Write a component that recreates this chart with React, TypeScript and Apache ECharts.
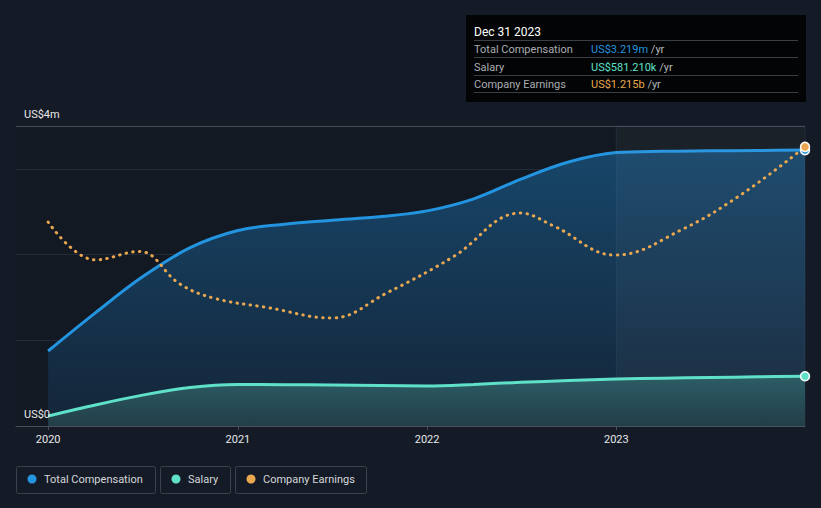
import React, { useEffect, useRef } from "react";
import * as echarts from "echarts";

const utc = (s: string) => {
  const [y, m, d] = s.split("-").map(Number);
  return Date.UTC(y, m - 1, d);
};

// Total compensation & salary (US$ millions), quarterly
const compDates = ["2020-01-01", "2020-04-01", "2020-07-01", "2020-10-01", "2021-01-01", "2021-04-01", "2021-07-01", "2021-10-01", "2022-01-01", "2022-04-01", "2022-07-01", "2022-10-01", "2023-01-01", "2023-04-01", "2023-07-01", "2023-10-01", "2023-12-31"];
const totalComp = [0.875, 1.32, 1.74, 2.08, 2.28, 2.355, 2.4, 2.44, 2.51, 2.65, 2.88, 3.08, 3.19, 3.205, 3.21, 3.215, 3.219];
const salary = [0.117, 0.245, 0.36, 0.45, 0.484, 0.482, 0.478, 0.472, 0.468, 0.485, 0.51, 0.53, 0.548, 0.558, 0.566, 0.574, 0.581];

// Company earnings (US$ billions)
const earnDates = ["2020-01-01", "2020-04-01", "2020-06-25", "2020-09-10", "2020-11-15", "2021-03-01", "2021-07-01", "2021-10-15", "2022-02-20", "2022-06-30", "2022-09-02", "2022-12-30", "2023-05-10", "2023-09-03", "2023-12-31"];
const earnings = [0.888, 0.723, 0.76, 0.62, 0.557, 0.515, 0.47, 0.579, 0.736, 0.927, 0.871, 0.744, 0.858, 1.014, 1.215];

const yearTicks = ["2020-01-01", "2021-01-01", "2022-01-01", "2023-01-01"];
const xStart = "2019-10-31";
const xEnd = "2023-12-31";
const highlightStart = "2023-01-01";

const seriesNames = ["Total Compensation", "Salary", "Company Earnings"];
const colors = ["#2394df", "#5fe0c8", "#e9a84f"];

const tooltipTitle = "Dec 31 2023";
const tooltipValues = ["US$3.219m", "US$581.210k", "US$1.215b"];
const yLabels = ["US$4m", "US$0"];

const FONT = "Roboto, 'Noto Sans', sans-serif";

function withEndMarker(dates: string[], vals: number[], color: string) {
  return vals.map((v, i) => {
    const item: any = { value: [utc(dates[i]), v] };
    if (i === vals.length - 1) {
      item.symbol = "circle";
      item.symbolSize = 9;
      item.itemStyle = { color, borderColor: "#ffffff", borderWidth: 1.5 };
    }
    return item;
  });
}

export default function App() {
  const ref = useRef<HTMLDivElement>(null);
  useEffect(() => {
    document.body.style.margin = "0";
    document.body.style.background = "#151b26";
    const chart = echarts.init(ref.current!, undefined, { renderer: "svg" });

    const graphics: any[] = [];
    graphics.push({ type: "line", shape: { x1: 16, y1: 126.5, x2: 805, y2: 126.5 }, style: { stroke: "#474d57", lineWidth: 1 }, z: 5 });
    graphics.push({ type: "text", x: 24, y: 114, style: { text: yLabels[0], fill: "#e6e8ea", font: `11px ${FONT}`, textVerticalAlign: "middle" }, z: 10 });
    graphics.push({ type: "text", x: 24, y: 414, style: { text: yLabels[1], fill: "#e6e8ea", font: `11px ${FONT}`, textVerticalAlign: "middle" }, z: 10 });

    graphics.push({ type: "rect", shape: { x: 466, y: 15, width: 340, height: 87 }, style: { fill: "#030405" }, z: 20 });
    graphics.push({ type: "text", x: 474, y: 32, style: { text: tooltipTitle, fill: "#ffffff", font: `12px ${FONT}`, textVerticalAlign: "middle" }, z: 21 });
    const lineYs = [40.5, 57.5, 75.5, 92.5];
    lineYs.forEach((ly) => graphics.push({ type: "line", shape: { x1: 474, y1: ly, x2: 798, y2: ly }, style: { stroke: "#3b3e43", lineWidth: 1 }, z: 21 }));
    const rowYs = [49.5, 67, 84.5];
    seriesNames.forEach((n, i) => {
      graphics.push({ type: "text", x: 474, y: rowYs[i], style: { text: n, fill: "#a9adb3", font: `11px ${FONT}`, textVerticalAlign: "middle" }, z: 21 });
      graphics.push({
        type: "text", x: 591, y: rowYs[i],
        style: {
          text: `{v|${tooltipValues[i]}} {u|/yr}`, textVerticalAlign: "middle", font: `11px ${FONT}`,
          rich: { v: { fill: colors[i], font: `11px ${FONT}` }, u: { fill: "#b4b8bd", font: `11px ${FONT}` } },
        }, z: 21,
      });
    });

    const boxes = [
      { x: 16.5, w: 139 },
      { x: 160.5, w: 70 },
      { x: 235.5, w: 131 },
    ];
    seriesNames.forEach((n, i) => {
      const b = boxes[i];
      graphics.push({ type: "rect", shape: { x: b.x, y: 466.5, width: b.w, height: 27, r: 2 }, style: { fill: "transparent", stroke: "#3c424c", lineWidth: 1 }, z: 10 });
      graphics.push({ type: "circle", shape: { cx: b.x + 15.5, cy: 479, r: 4.5 }, style: { fill: colors[i] }, z: 11 });
      graphics.push({ type: "text", x: b.x + 27.5, y: 479.5, style: { text: n, fill: "#d4d7db", font: `11px ${FONT}`, textVerticalAlign: "middle" }, z: 11 });
    });

    chart.setOption({
      animation: false,
      backgroundColor: "#151b26",
      grid: { left: 16, right: 16, top: 126, bottom: 82, containLabel: false, outerBoundsMode: "none", show: true, backgroundColor: "#131922", borderWidth: 0 },
      xAxis: {
        type: "value",
        min: utc(xStart),
        max: utc(xEnd),
        axisLine: { lineStyle: { color: "#4a505a", width: 1 } },
        axisTick: { show: true, length: 4, lineStyle: { color: "#4a505a" }, customValues: yearTicks.map(utc) },
        axisLabel: {
          color: "#e6e8ea", fontSize: 11, fontFamily: FONT, margin: 8,
          customValues: yearTicks.map(utc),
          formatter: (v: number) => String(new Date(v).getUTCFullYear()),
        },
        splitLine: { show: false },
      },
      yAxis: [
        {
          type: "value", min: 0, max: 3.5, interval: 1,
          axisLabel: { show: false }, axisLine: { show: false }, axisTick: { show: false },
          splitLine: { lineStyle: { color: "#232c39", width: 1 } },
        },
        { type: "value", min: 0, max: 1.306, show: false, splitLine: { show: false } },
      ],
      graphic: graphics,
      series: [
        {
          name: seriesNames[0], type: "line", yAxisIndex: 0, smooth: 0.35,
          symbol: "none", showSymbol: true, showAllSymbol: true,
          data: withEndMarker(compDates, totalComp, colors[0]),
          lineStyle: { color: colors[0], width: 3 },
          itemStyle: { color: colors[0] },
          areaStyle: {
            color: new echarts.graphic.LinearGradient(0, 0, 0, 1, [
              { offset: 0, color: "#17466a" },
              { offset: 1, color: "#142538" },
            ]),
            opacity: 1,
          },
          z: 2,
        },
        {
          name: seriesNames[1], type: "line", yAxisIndex: 0, smooth: 0.35,
          symbol: "none", showSymbol: true, showAllSymbol: true,
          data: withEndMarker(compDates, salary, colors[1]),
          lineStyle: { color: colors[1], width: 3 },
          itemStyle: { color: colors[1] },
          areaStyle: {
            color: new echarts.graphic.LinearGradient(0, 0, 0, 1, [
              { offset: 0, color: "#2c5d66" },
              { offset: 1, color: "#223e48" },
            ]),
            opacity: 1,
          },
          z: 3,
        },
        {
          name: seriesNames[2], type: "line", yAxisIndex: 1, smooth: 0.4,
          symbol: "none", showSymbol: true, showAllSymbol: true,
          data: withEndMarker(earnDates, earnings, colors[2]),
          lineStyle: { color: colors[2], width: 3, type: [0.5, 6.2], cap: "round" },
          itemStyle: { color: colors[2] },
          markArea: {
            silent: true,
            z: 3,
            itemStyle: { color: "rgba(255,255,255,0.035)", borderColor: "rgba(80,140,190,0.15)", borderWidth: 1 },
            data: [[{ xAxis: utc(highlightStart) }, { xAxis: utc(xEnd) }]],
          },
          z: 4,
        },
      ],
    });
    return () => chart.dispose();
  }, []);
  return <div ref={ref} style={{ position: "absolute", left: 0, top: 0, width: 821, height: 508 }} />;
}
